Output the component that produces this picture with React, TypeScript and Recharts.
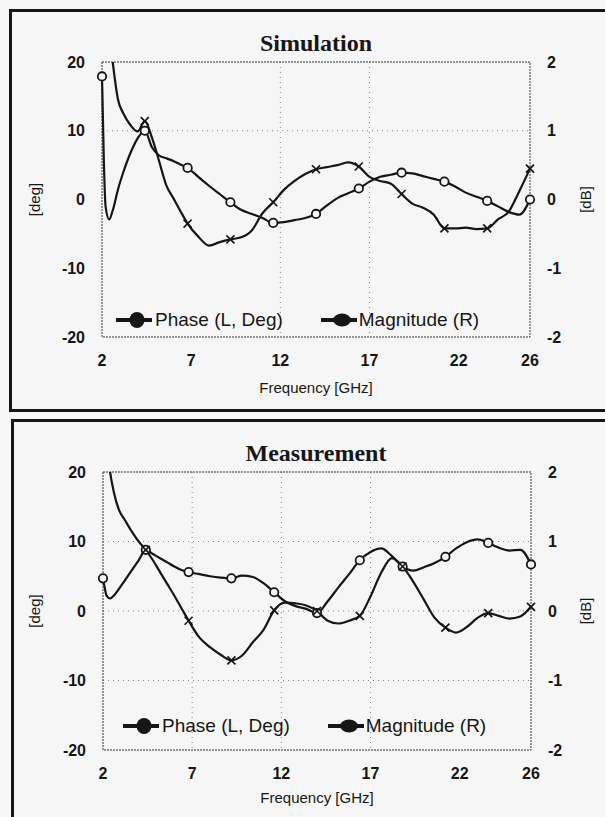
import React from 'react';
import { LineChart, Line, XAxis, YAxis, CartesianGrid, Legend, Label, ReferenceArea } from 'recharts';

// frequency grid in GHz (shared by both panels)
const freqs = [2, 2.1, 2.2, 2.4, 2.6, 2.9, 3.2, 3.6, 4.0, 4.4, 4.8, 5.2, 5.6, 6.0, 6.4, 6.8, 7.4, 8.0, 8.6, 9.2, 9.8, 10.4, 11.0, 11.6, 12.2, 12.8, 13.4, 14.0, 14.6, 15.2, 15.8, 16.4, 17.0, 17.6, 18.2, 18.8, 19.4, 20.0, 20.6, 21.2, 21.8, 22.4, 23.0, 23.6, 24.2, 24.8, 25.4, 26.0];
// frequencies that carry a marker symbol
const markerFreqs = [2, 4.4, 6.8, 9.2, 11.6, 14.0, 16.4, 18.8, 21.2, 23.6, 26.0];

// Simulation
const simPhase = [17.9, 6, -1.0, -2.9, -1.6, 1.5, 4.0, 6.8, 8.9, 10.0, 7.6, 6.4, 6.0, 5.6, 5.1, 4.6, 3.3, 2.0, 0.8, -0.4, -1.5, -2.1, -2.7, -3.4, -3.3, -3.0, -2.7, -2.1, -0.9, 0.2, 0.9, 1.6, 2.6, 3.3, 3.6, 3.9, 3.8, 3.4, 3.0, 2.6, 1.9, 1.0, 0.4, -0.2, -1.0, -1.8, -2.2, 0.0];
const simMag = [3.6, 3.3, 3.0, 2.45, 2.0, 1.45, 1.25, 1.08, 0.99, 1.14, 0.9, 0.56, 0.21, 0.02, -0.17, -0.35, -0.54, -0.67, -0.62, -0.58, -0.55, -0.45, -0.2, -0.04, 0.14, 0.27, 0.37, 0.44, 0.47, 0.5, 0.54, 0.48, 0.33, 0.27, 0.23, 0.08, -0.06, -0.12, -0.22, -0.42, -0.42, -0.41, -0.43, -0.42, -0.29, -0.18, 0.12, 0.45];

// Measurement
const measPhase = [4.7, 3.3, 2.2, 1.8, 2.2, 3.2, 4.3, 5.8, 7.3, 8.8, 8.2, 7.6, 7.0, 6.4, 5.9, 5.6, 5.3, 5.0, 4.8, 4.7, 5.1, 4.9, 4.0, 2.7, 1.4, 0.7, 0.3, -0.3, 1.4, 3.4, 5.3, 7.3, 8.5, 9.0, 7.9, 6.4, 5.8, 6.3, 6.9, 7.8, 9.0, 9.9, 10.3, 9.8, 9.1, 8.7, 8.8, 6.7];
const measMag = [3.0, 2.75, 2.5, 2.0, 1.72, 1.45, 1.32, 1.15, 1.0, 0.88, 0.73, 0.56, 0.39, 0.22, 0.04, -0.14, -0.38, -0.52, -0.63, -0.71, -0.64, -0.45, -0.27, 0.01, 0.12, 0.11, 0.08, 0.0, -0.14, -0.18, -0.14, -0.07, 0.21, 0.55, 0.76, 0.64, 0.42, 0.16, -0.1, -0.24, -0.31, -0.23, -0.1, -0.03, -0.07, -0.11, -0.08, 0.06];

const xTicks = [2, 7, 12, 17, 22, 26];
const degTicks = [-20, -10, 0, 10, 20];
const dbTicks = [-2, -1, 0, 1, 2];

const INK = '#161616';
const BG = '#f6f6f6';
const SANS = '"Liberation Sans", Arial, sans-serif';

const phaseDot = (props: any) => {
  const { cx, cy, payload, index } = props;
  if (cx == null || cy == null || !markerFreqs.includes(payload.freq)) return <g key={`pd${index}`} />;
  return <circle key={`pd${index}`} cx={cx} cy={cy} r={4.2} fill={BG} stroke={INK} strokeWidth={1.8} />;
};

const magDot = (props: any) => {
  const { cx, cy, payload, index } = props;
  if (cx == null || cy == null || !markerFreqs.includes(payload.freq)) return <g key={`md${index}`} />;
  return (
    <g key={`md${index}`} stroke={INK} strokeWidth={1.7}>
      <line x1={cx - 4} y1={cy - 4} x2={cx + 4} y2={cy + 4} />
      <line x1={cx - 4} y1={cy + 4} x2={cx + 4} y2={cy - 4} />
    </g>
  );
};

function LegendIcon({ wide }: { wide?: boolean }) {
  return (
    <svg width={36} height={18} style={{ display: 'block' }}>
      <line x1={0} y1={9} x2={36} y2={9} stroke={INK} strokeWidth={4} />
      <ellipse cx={21} cy={9} rx={wide ? 9 : 7.5} ry={wide ? 6.5 : 8} fill={INK} />
    </svg>
  );
}

const legendContent = () => (
  <div style={{ display: 'flex', alignItems: 'center', fontFamily: SANS, fontSize: 19, color: INK, whiteSpace: 'nowrap' }}>
    <LegendIcon />
    <span style={{ marginLeft: 3 }}>Phase (L, Deg)</span>
    <span style={{ display: 'inline-block', width: 38 }} />
    <LegendIcon wide />
    <span style={{ marginLeft: 2 }}>Magnitude (R)</span>
  </div>
);

type PanelProps = {
  title: string;
  phase: number[];
  mag: number[];
  top: number;
  height: number;
  margin: { top: number; right: number; bottom: number; left: number };
  gridH: number[];
  gridV: number[];
  legendPos: { left: number; top: number };
  labelY: number;
};

function Panel({ title, phase, mag, top, height, margin, gridH, gridV, legendPos, labelY }: PanelProps) {
  const data = freqs.map((f, i) => ({ freq: f, phase: phase[i], mag: mag[i] }));
  const tickStyle = { fontSize: 16, fontWeight: 'bold', fill: INK, fontFamily: SANS };
  return (
    <div style={{ position: 'absolute', left: 0, top, width: 605, height }}>
      <div
        style={{
          position: 'absolute', left: 166, top: margin.top - 33, width: 300, textAlign: 'center',
          fontFamily: '"Liberation Serif", "Times New Roman", serif', fontWeight: 'bold', fontSize: 24, color: INK, lineHeight: '28px',
        }}
      >
        {title}
      </div>
      <LineChart width={605} height={height} data={data} margin={margin}>
        <CartesianGrid
          yAxisId="left"
          stroke="#888"
          strokeDasharray="1 4"
          horizontalValues={gridH}
          verticalValues={gridV}
        />
        <ReferenceArea yAxisId="left" x1={2} x2={26} y1={-20} y2={20} fill="none" stroke="#333" strokeDasharray="2 1" strokeWidth={1} />
        <XAxis
          dataKey="freq"
          type="number"
          domain={[2, 26]}
          ticks={xTicks}
          axisLine={false}
          tickLine={false}
          tickMargin={12}
          height={50}
          tick={tickStyle}
        >
          <Label
            content={(p: any) => {
              const vb = p.viewBox || { x: 0, width: 0 };
              return (
                <text x={vb.x + vb.width / 2} y={labelY} textAnchor="middle" dominantBaseline="central" fontFamily={SANS} fontSize={15} fill={INK}>
                  Frequency [GHz]
                </text>
              );
            }}
          />
        </XAxis>
        <YAxis
          yAxisId="left"
          domain={[-20, 20]}
          ticks={degTicks}
          allowDataOverflow
          axisLine={false}
          tickLine={false}
          tickMargin={11}
          width={52}
          tick={tickStyle}
        >
          <Label
            content={(p: any) => {
              const vb = p.viewBox || { x: 0, y: 0, height: 0 };
              const cx = 34;
              const cy = vb.y + vb.height / 2;
              return (
                <text x={cx} y={cy} transform={`rotate(-90 ${cx} ${cy})`} textAnchor="middle" dominantBaseline="central" fontFamily={SANS} fontSize={15} fill={INK}>
                  [deg]
                </text>
              );
            }}
          />
        </YAxis>
        <YAxis
          yAxisId="right"
          orientation="right"
          domain={[-2, 2]}
          ticks={dbTicks}
          allowDataOverflow
          axisLine={false}
          tickLine={false}
          tickMargin={11}
          width={35}
          tick={tickStyle}
        >
          <Label
            content={(p: any) => {
              const vb = p.viewBox || { x: 0, y: 0, height: 0 };
              const cx = 585;
              const cy = vb.y + vb.height / 2;
              return (
                <text x={cx} y={cy} transform={`rotate(-90 ${cx} ${cy})`} textAnchor="middle" dominantBaseline="central" fontFamily={SANS} fontSize={15} fill={INK}>
                  [dB]
                </text>
              );
            }}
          />
        </YAxis>
        <Line
          yAxisId="left"
          type="monotone"
          dataKey="phase"
          name="Phase (L, Deg)"
          stroke={INK}
          strokeWidth={2.2}
          dot={phaseDot}
          activeDot={false}
          isAnimationActive={false}
        />
        <Line
          yAxisId="right"
          type="monotone"
          dataKey="mag"
          name="Magnitude (R)"
          stroke={INK}
          strokeWidth={2.2}
          dot={magDot}
          activeDot={false}
          isAnimationActive={false}
        />
        <Legend
          layout="horizontal"
          verticalAlign="middle"
          align="center"
          content={legendContent}
          wrapperStyle={{ left: legendPos.left, top: legendPos.top, width: 420, height: 22 }}
        />
      </LineChart>
    </div>
  );
}

export default function App() {
  return (
    <div style={{ position: 'absolute', left: 0, top: 0, width: 605, height: 817, overflow: 'hidden', background: BG }}>
      <div style={{ position: 'absolute', left: 9, top: 9, width: 640, height: 403, border: `3px solid ${INK}`, boxSizing: 'border-box' }} />
      <div style={{ position: 'absolute', left: 11, top: 419, width: 640, height: 460, border: `3px solid ${INK}`, boxSizing: 'border-box' }} />
      <Panel
        title="Simulation"
        phase={simPhase}
        mag={simMag}
        top={0}
        height={410}
        margin={{ top: 62, right: 40, bottom: 23, left: 50 }}
        gridH={[10]}
        gridV={[12, 17]}
        legendPos={{ left: 116, top: 309 }}
        labelY={387}
      />
      <Panel
        title="Measurement"
        phase={measPhase}
        mag={measMag}
        top={410}
        height={407}
        margin={{ top: 62, right: 39, bottom: 17, left: 51 }}
        gridH={[10, 0, -10]}
        gridV={[7, 12, 17]}
        legendPos={{ left: 123, top: 305 }}
        labelY={387}
      />
    </div>
  );
}
